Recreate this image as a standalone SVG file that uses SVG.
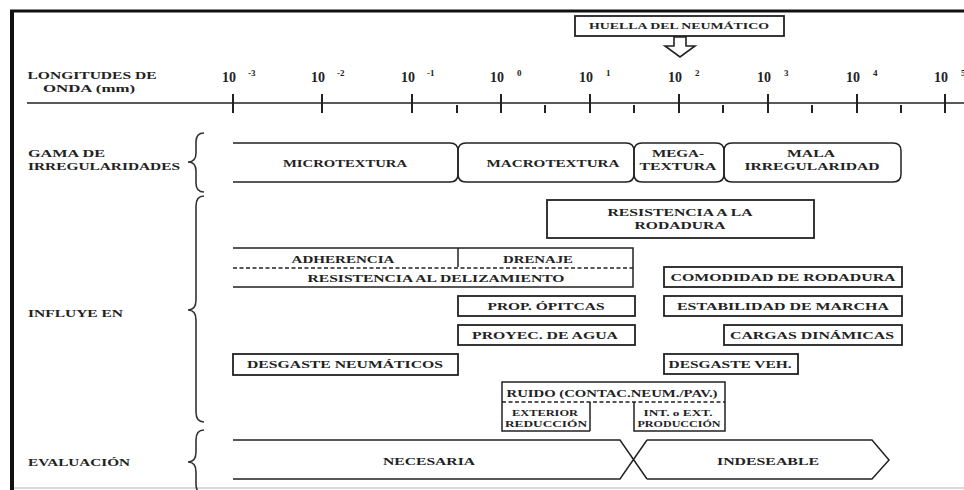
<svg xmlns="http://www.w3.org/2000/svg" width="964" height="490" viewBox="0 0 964 490">
<style>
.t{font-family:"Liberation Serif","Times New Roman",serif;font-weight:bold;fill:#222;}
.s{font-size:11px;}
.l{font-size:10px;}
.ax{font-size:14px;}
.ex{font-size:9px;}
.bx{fill:#fff;stroke:#222;stroke-width:1.8;}
.ln{fill:none;stroke:#222;stroke-width:1.5;}
.ds{fill:none;stroke:#222;stroke-width:1.3;stroke-dasharray:4 2.5;}
.br{fill:none;stroke:#333;stroke-width:1.6;}
</style>
<rect width="964" height="490" fill="#fff"/>
<g id="frame">
<line x1="10" y1="11" x2="964" y2="11" stroke="#111" stroke-width="3"/>
<line x1="12" y1="10" x2="12" y2="490" stroke="#111" stroke-width="4"/>
<line x1="14" y1="488" x2="964" y2="488" stroke="#ccc" stroke-width="1.5"/>
</g>
<g id="axis">
<text class="t l" x="92" y="79" text-anchor="middle" textLength="129" lengthAdjust="spacingAndGlyphs">LONGITUDES DE</text>
<text class="t l" x="89" y="92" text-anchor="middle" textLength="92" lengthAdjust="spacingAndGlyphs">ONDA (mm)</text>
<line x1="27" y1="103" x2="964" y2="103" stroke="#222" stroke-width="1.4"/>
<g stroke="#222" stroke-width="2">
<line x1="233" y1="94" x2="233" y2="113"/><line x1="322" y1="94" x2="322" y2="113"/><line x1="412" y1="94" x2="412" y2="113"/><line x1="501" y1="94" x2="501" y2="113"/><line x1="590" y1="94" x2="590" y2="113"/><line x1="679" y1="94" x2="679" y2="113"/><line x1="768" y1="94" x2="768" y2="113"/><line x1="857" y1="94" x2="857" y2="113"/><line x1="945" y1="94" x2="945" y2="113"/>
<line x1="457" y1="105" x2="457" y2="113"/><line x1="545" y1="105" x2="545" y2="113"/><line x1="634" y1="105" x2="634" y2="113"/><line x1="723" y1="105" x2="723" y2="113"/><line x1="812" y1="105" x2="812" y2="113"/><line x1="901" y1="105" x2="901" y2="113"/>
</g>
<text class="t ax" x="222" y="82">10</text><text class="t ex" x="248" y="76">-3</text>
<text class="t ax" x="311" y="82">10</text><text class="t ex" x="337" y="76">-2</text>
<text class="t ax" x="401" y="82">10</text><text class="t ex" x="427" y="76">-1</text>
<text class="t ax" x="490" y="82">10</text><text class="t ex" x="517" y="76">0</text>
<text class="t ax" x="579" y="82">10</text><text class="t ex" x="606" y="76">1</text>
<text class="t ax" x="668" y="82">10</text><text class="t ex" x="695" y="76">2</text>
<text class="t ax" x="757" y="82">10</text><text class="t ex" x="784" y="76">3</text>
<text class="t ax" x="846" y="82">10</text><text class="t ex" x="873" y="76">4</text>
<text class="t ax" x="934" y="82">10</text><text class="t ex" x="961" y="76">5</text>
</g>
<g id="huella">
<rect class="bx" x="575" y="16" width="209" height="20"/>
<text class="t" font-size="9" x="679" y="29" text-anchor="middle" textLength="180" lengthAdjust="spacingAndGlyphs">HUELLA DEL NEUMÁTICO</text>
</g>
<g id="connectors">
<polygon points="674,37 686,37 686,46 695,46 680,57 665,46 674,46" fill="#fff" stroke="#222" stroke-width="1.6"/>
</g>
<g id="labels">
<text class="t l" x="28" y="157" textLength="77" lengthAdjust="spacingAndGlyphs">GAMA DE</text>
<text class="t l" x="28" y="170" textLength="152" lengthAdjust="spacingAndGlyphs">IRREGULARIDADES</text>
<text class="t l" x="28" y="317" textLength="95" lengthAdjust="spacingAndGlyphs">INFLUYE EN</text>
<text class="t l" x="28" y="466" textLength="102" lengthAdjust="spacingAndGlyphs">EVALUACIÓN</text>
<path class="br" d="M204,133 Q196,133 196,142 V153 Q196,162 188,162 Q196,162 196,171 V183 Q196,192 204,192"/>
<path class="br" d="M204,196 Q196,196 196,206 V300 Q196,310 188,310 Q196,310 196,320 V412 Q196,422 204,422"/>
<path class="br" d="M204,430 Q196,430 196,440 V452 Q196,462 188,462 Q196,462 196,472 V484 Q196,494 204,494"/>
</g>
<g id="microtextura">
<path class="ln" d="M233,143 H450 Q458,143 458,151 V174 Q458,182 450,182 H233"/>
<text class="t s" x="345" y="167" text-anchor="middle" textLength="124" lengthAdjust="spacingAndGlyphs">MICROTEXTURA</text>
</g>
<g id="macrotextura">
<path class="ln" d="M466,143 H626 Q634,143 634,151 V174 Q634,182 626,182 H466 Q458,182 458,174 V151 Q458,143 466,143 Z"/>
<text class="t s" x="553" y="167" text-anchor="middle" textLength="133" lengthAdjust="spacingAndGlyphs">MACROTEXTURA</text>
</g>
<g id="megatextura">
<path class="ln" d="M642,143 H716 Q724,143 724,151 V174 Q724,182 716,182 H642 Q634,182 634,174 V151 Q634,143 642,143 Z"/>
<text class="t s" x="678" y="157" text-anchor="middle" textLength="52" lengthAdjust="spacingAndGlyphs">MEGA-</text>
<text class="t s" x="678" y="170" text-anchor="middle" textLength="77" lengthAdjust="spacingAndGlyphs">TEXTURA</text>
</g>
<g id="mala-irregularidad">
<path class="ln" d="M732,143 H893 Q901,143 901,151 V174 Q901,182 893,182 H732 Q724,182 724,174 V151 Q724,143 732,143 Z"/>
<text class="t s" x="811" y="157" text-anchor="middle" textLength="48" lengthAdjust="spacingAndGlyphs">MALA</text>
<text class="t s" x="812" y="170" text-anchor="middle" textLength="135" lengthAdjust="spacingAndGlyphs">IRREGULARIDAD</text>
</g>
<g id="resistencia-rodadura">
<rect class="bx" x="547" y="200" width="267" height="38"/>
<text class="t s" x="680" y="216" text-anchor="middle" textLength="145" lengthAdjust="spacingAndGlyphs">RESISTENCIA A LA</text>
<text class="t s" x="680" y="229" text-anchor="middle" textLength="91" lengthAdjust="spacingAndGlyphs">RODADURA</text>
</g>
<g id="adherencia">
<path class="ln" d="M233,248 H633 V287 H233"/>
<line class="ln" x1="458" y1="248" x2="458" y2="267"/>
<line class="ds" x1="233" y1="268" x2="633" y2="268"/>
<text class="t s" x="343" y="263" text-anchor="middle" textLength="103" lengthAdjust="spacingAndGlyphs">ADHERENCIA</text>
<text class="t s" x="538" y="263" text-anchor="middle" textLength="70" lengthAdjust="spacingAndGlyphs">DRENAJE</text>
<text class="t s" x="436" y="282" text-anchor="middle" textLength="257" lengthAdjust="spacingAndGlyphs">RESISTENCIA AL DELIZAMIENTO</text>
</g>
<g id="prop-opticas">
<rect class="bx" x="458" y="296" width="177" height="20"/>
<text class="t s" x="546" y="310" text-anchor="middle" textLength="117" lengthAdjust="spacingAndGlyphs">PROP. ÓPITCAS</text>
</g>
<g id="proyec-agua">
<rect class="bx" x="458" y="325" width="177" height="20"/>
<text class="t s" x="545" y="339" text-anchor="middle" textLength="146" lengthAdjust="spacingAndGlyphs">PROYEC. DE AGUA</text>
</g>
<g id="comodidad">
<rect class="bx" x="664" y="267" width="238" height="20"/>
<text class="t s" x="783" y="281" text-anchor="middle" textLength="225" lengthAdjust="spacingAndGlyphs">COMODIDAD DE RODADURA</text>
</g>
<g id="estabilidad">
<rect class="bx" x="664" y="296" width="238" height="20"/>
<text class="t s" x="783" y="310" text-anchor="middle" textLength="212" lengthAdjust="spacingAndGlyphs">ESTABILIDAD DE MARCHA</text>
</g>
<g id="cargas">
<rect class="bx" x="724" y="325" width="178" height="20"/>
<text class="t s" x="812" y="339" text-anchor="middle" textLength="164" lengthAdjust="spacingAndGlyphs">CARGAS DINÁMICAS</text>
</g>
<g id="desgaste-veh">
<rect class="bx" x="664" y="354" width="134" height="20"/>
<text class="t s" x="730" y="368" text-anchor="middle" textLength="123" lengthAdjust="spacingAndGlyphs">DESGASTE VEH.</text>
</g>
<g id="desgaste-neumaticos">
<rect class="bx" x="233" y="354" width="225" height="21"/>
<text class="t s" x="345" y="368" text-anchor="middle" textLength="196" lengthAdjust="spacingAndGlyphs">DESGASTE NEUMÁTICOS</text>
</g>
<g id="ruido">
<path class="ln" stroke-width="1.8" d="M590,431 H502 V382 H725 V431 H634 V402 M590,402 V431"/>
<line class="ds" x1="502" y1="402" x2="725" y2="402"/>
<text class="t s" x="612" y="397" text-anchor="middle" textLength="211" lengthAdjust="spacingAndGlyphs">RUIDO (CONTAC.NEUM./PAV.)</text>
<text class="t" font-size="9" x="545" y="416" text-anchor="middle" textLength="66" lengthAdjust="spacingAndGlyphs">EXTERIOR</text>
<text class="t" font-size="9" x="546" y="427" text-anchor="middle" textLength="82" lengthAdjust="spacingAndGlyphs">REDUCCIÓN</text>
<text class="t" font-size="9" x="678" y="416" text-anchor="middle" textLength="69" lengthAdjust="spacingAndGlyphs">INT. o EXT.</text>
<text class="t" font-size="9" x="679" y="427" text-anchor="middle" textLength="83" lengthAdjust="spacingAndGlyphs">PRODUCCIÓN</text>
</g>
<g id="necesaria">
<path class="ln" d="M233,440 H620 L647,479 M233,479 H620 L647,440"/>
<text class="t s" x="429" y="465" text-anchor="middle" textLength="92" lengthAdjust="spacingAndGlyphs">NECESARIA</text>
</g>
<g id="indeseable">
<path class="ln" d="M647,440 H872 L889,460 L872,479 H647"/>
<text class="t s" x="768" y="465" text-anchor="middle" textLength="102" lengthAdjust="spacingAndGlyphs">INDESEABLE</text>
</g>
</svg>
